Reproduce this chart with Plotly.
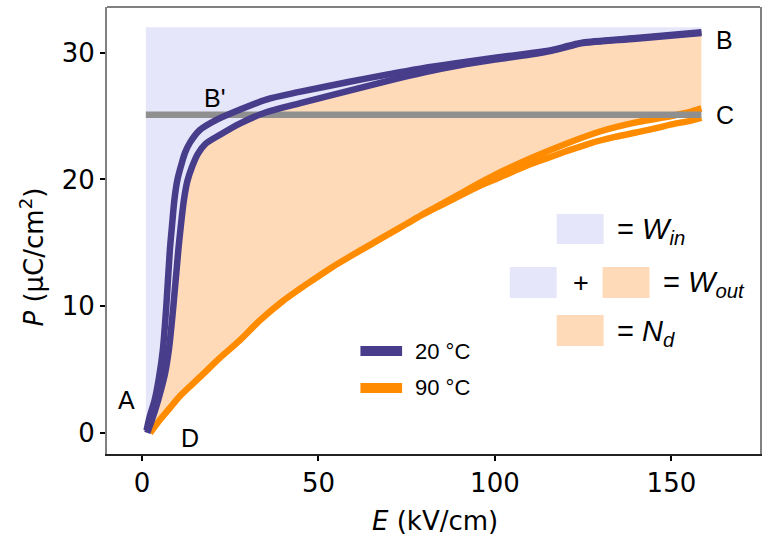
import plotly.graph_objects as go

# 20 °C loop: rising (charge) branch and return (discharge) branch
# E in kV/cm, P in µC/cm²
e20_up = [1.3, 2.2, 3.6, 4.9, 5.9, 6.9, 7.9, 8.5, 9.2, 10.0, 11.0, 12.2, 13.6, 16.4,
          21.1, 27.7, 35.2, 44.6, 58.8, 70, 80, 90, 100, 110, 116, 121, 125, 140, 158.5]
p20_up = [0.2, 1.3, 2.6, 4.5, 6.5, 10.0, 14.4, 16.3, 18.4, 19.9, 21.0, 22.1, 22.9, 23.9,
          24.7, 25.5, 26.3, 26.9, 27.7, 28.3, 28.8, 29.2, 29.6, 29.95, 30.2, 30.55, 30.8, 31.15, 31.6]
e20_dn = [1.5, 2.8, 4.6, 6.4, 7.6, 8.9, 10.3, 11.0, 11.9, 12.9, 14.2, 15.8, 18.0, 22.0,
          27.7, 35.2, 44.6, 58.8, 70, 80, 90, 100, 110, 116, 121, 125, 140, 158.5]
p20_dn = [0.0, 1.0, 2.6, 4.5, 6.5, 10.0, 14.4, 16.3, 18.4, 19.9, 21.0, 22.0, 22.8, 23.5,
          24.4, 25.3, 26.0, 27.0, 27.8, 28.45, 29.0, 29.45, 29.85, 30.15, 30.5, 30.75, 31.1, 31.55]

# 90 °C loop: charge branch and the return branch above it
e90 = [2.3, 5.0, 8.0, 10.7, 16.4, 22, 27.7, 33.5, 39.9, 47, 54, 58.8, 65, 70, 75, 80,
       85, 90, 95, 100, 105, 110, 115, 120, 127, 134, 140, 145, 151, 155, 158.5]
p90 = [0.0, 1.0, 2.0, 2.9, 4.4, 5.9, 7.3, 8.9, 10.4, 11.8, 13.1, 13.9, 14.9, 15.7, 16.5, 17.3,
       18.0, 18.7, 19.4, 20.0, 20.6, 21.2, 21.7, 22.2, 22.85, 23.35, 23.7, 24.0, 24.4, 24.6, 24.85]
e90_ret = [158.5, 155, 150, 140, 130, 120, 110, 100, 90, 80]
p90_ret = [25.6, 25.3, 25.0, 24.5, 23.8, 22.8, 21.65, 20.35, 18.85, 17.3]

# working field and polarization levels
e_min, e_max = 1.1, 158.5
p_top = 32.0
p_work = 25.1

PURPLE = "#483D8B"
ORANGE = "#FF8C00"
LAVENDER = "#E6E6FA"
PEACH = "#FFDAB9"
GREY = "#8f8f8f"
TXT_FONT = "Liberation Sans, Arial, sans-serif"
AX_FONT = "DejaVu Sans, sans-serif"
LW = 6.5

fig = go.Figure()

# W_in region: between the left edge and the 20 °C return branch, up to p_top
lav_x = [e_min] + e20_dn + [e_max, e_min]
lav_y = [p20_dn[0]] + p20_dn + [p_top, p_top]
fig.add_trace(go.Scatter(x=lav_x, y=lav_y, fill="toself", fillcolor=LAVENDER,
                         mode="none", hoverinfo="skip", showlegend=False))

# N_d region: between the 20 °C return branch and the upper edge of the 90 °C loop
low_part = [(e, p) for e, p in zip(e90, p90) if e <= e90_ret[-1]]
upper90 = list(zip(e90_ret, p90_ret)) + low_part[::-1][1:]
peach_x = e20_dn + [e_max] + [e for e, _ in upper90]
peach_y = p20_dn + [p90_ret[0]] + [p for _, p in upper90]
fig.add_trace(go.Scatter(x=peach_x, y=peach_y, fill="toself", fillcolor=PEACH,
                         mode="none", hoverinfo="skip", showlegend=False))

# 90 °C loop
for xs, ys in [(e90, p90), (e90_ret, p90_ret)]:
    fig.add_trace(go.Scatter(x=xs, y=ys, mode="lines",
                             line=dict(color=ORANGE, width=LW, shape="spline", smoothing=0.8),
                             showlegend=False))

# working polarization line B'-C
fig.add_trace(go.Scatter(x=[e_min, e_max], y=[p_work, p_work], mode="lines",
                         line=dict(color=GREY, width=LW), showlegend=False))

# 20 °C loop
for xs, ys in [(e20_up, p20_up), (e20_dn, p20_dn)]:
    fig.add_trace(go.Scatter(x=xs, y=ys, mode="lines",
                             line=dict(color=PURPLE, width=LW, shape="spline", smoothing=0.8),
                             showlegend=False))

annotations = []


def label(x, y, text, size=25, xanchor="center", family=TXT_FONT):
    annotations.append(dict(x=x, y=y, xref="x", yref="y", text=text, showarrow=False,
                            xanchor=xanchor, yanchor="middle",
                            font=dict(family=family, size=size, color="black")))


# point labels
label(-4.3, 2.6, "A")
label(13.7, -0.43, "D")
label(20.6, 26.4, "B'")
label(165.1, 31.0, "B")
label(165.1, 25.1, "C")

shapes = []

# line legend
for yy, col, txt in [(6.46, PURPLE, "20 °C"), (3.55, ORANGE, "90 °C")]:
    shapes.append(dict(type="line", xref="x", yref="y", x0=61.9, x1=73.7, y0=yy, y1=yy,
                       line=dict(color=col, width=10)))
    label(76.8, yy, txt, size=22, xanchor="left")


# area legend
def box(x0, x1, y0, y1, col):
    shapes.append(dict(type="rect", xref="x", yref="y", x0=x0, x1=x1, y0=y0, y1=y1,
                       fillcolor=col, line=dict(width=0), layer="above"))


box(117.5, 130.8, 14.9, 17.27, LAVENDER)
label(134.1, 15.9, "= <i>W<sub>in</sub></i>", size=29, xanchor="left")

box(104.2, 117.5, 10.64, 13.09, LAVENDER)
label(124.3, 11.83, "+", size=27)
box(130.5, 143.8, 10.64, 13.09, PEACH)
label(147.1, 11.75, "= <i>W<sub>out</sub></i>", size=29, xanchor="left")

box(117.5, 130.8, 6.86, 9.30, PEACH)
label(134.1, 7.9, "= <i>N<sub>d</sub></i>", size=29, xanchor="left")

# top frame edge
shapes.append(dict(type="line", xref="paper", yref="paper", x0=0, x1=1, y0=1, y1=1,
                   line=dict(color="#808080", width=2)))

# axis titles
annotations.append(dict(x=-0.1145, y=0.44, xref="paper", yref="paper",
                        xanchor="center", yanchor="middle",
                        text="<i>P</i> (μC/cm<sup>2</sup>)", showarrow=False, textangle=-90,
                        font=dict(family=AX_FONT, size=26, color="black")))
annotations.append(dict(x=0.502, y=-0.15, xref="paper", yref="paper",
                        xanchor="center", yanchor="middle",
                        text="<i>E</i> (kV/cm)", showarrow=False,
                        font=dict(family=AX_FONT, size=26, color="black")))

fig.update_layout(
    width=763, height=539,
    margin=dict(l=107, r=1, t=7, b=85),
    plot_bgcolor="white", paper_bgcolor="white",
    shapes=shapes, annotations=annotations,
    showlegend=False,
)
fig.update_xaxes(range=[-9.9, 175.1], tickvals=[0, 50, 100, 150], showgrid=False, zeroline=False,
                 showline=True, linecolor="#222222", linewidth=1.5, mirror=False,
                 ticks="outside", ticklen=5, tickwidth=1.5, tickcolor="black",
                 tickfont=dict(family=AX_FONT, size=26, color="black"))
fig.update_yaxes(range=[-1.66, 33.6], tickvals=[0, 10, 20, 30], showgrid=False, zeroline=False,
                 showline=True, linecolor="#808080", linewidth=2, mirror=True,
                 ticks="outside", ticklen=5, tickwidth=1.5, tickcolor="black",
                 tickfont=dict(family=AX_FONT, size=26, color="black"))

fig.write_html("out.html")
